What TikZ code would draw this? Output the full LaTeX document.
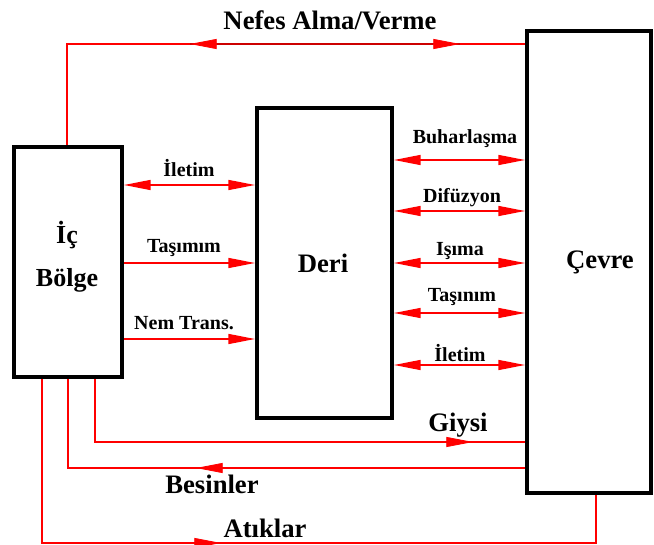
\documentclass[tikz,border=0pt]{standalone}
\usepackage{fontspec}
\setmainfont{Liberation Serif}
\usetikzlibrary{arrows.meta}
\begin{document}
\begin{tikzpicture}[x=0.75pt,y=-0.75pt,
  box/.style={draw=black,line width=3pt,fill=white,inner sep=0pt},
  flow/.style={draw=red,line width=1pt},
  head/.style={draw=red,fill=red,line width=0.6pt,-{Triangle[length=20pt,width=7.5pt]}},
  dbl/.style={draw=red,line width=1.1pt,{Triangle[length=20pt,width=7.5pt]}-{Triangle[length=20pt,width=7.5pt]}},
  uni/.style={draw=red,line width=1.1pt,-{Triangle[length=20pt,width=7.5pt]}},
  lab/.style={font=\bfseries\fontsize{15}{17}\selectfont,inner sep=0pt},
  big/.style={font=\bfseries\fontsize{19.5}{22}\selectfont,inner sep=0pt},
  ttl/.style={font=\bfseries\fontsize{20}{22}\selectfont,inner sep=0pt}]
\useasboundingbox (0,0) rectangle (654,545);

% blocks
\node[box,minimum width=81pt,minimum height=172.5pt] (ic) at (68,262) {};
\node[box,minimum width=101.25pt,minimum height=232.5pt] (deri) at (324.5,263) {};
\node[box,minimum width=93pt,minimum height=346.5pt] (cevre) at (589,262) {};

\node[big] (icT) at (67,235) {İç};
\node[big] (bolgeT) at (67,280) {Bölge};
\node[ttl] (deriT) at (323,263) {Deri};
\node[ttl] (cevreT) at (600,262) {Çevre};

% inner zone to skin
\draw[dbl] (ic.east |- 0,185) -- (deri.west |- 0,185);
\draw[uni] (ic.east |- 0,263) -- (deri.west |- 0,263);
\draw[uni] (ic.east |- 0,339) -- (deri.west |- 0,339);
\node[lab] (l1) at (189,168) {İletim};
\node[lab] (l2) at (184,248) {Taşımım};
\node[lab] (l3) at (184,323) {Nem Trans.};

% skin to surroundings
\foreach \y/\t/\ly/\lx in {160/Buharlaşma/139/465, 211/Difüzyon/198/462,
    263/Işıma/251/460, 313/Taşınım/297/462, 365/İletim/353/460}{
  \draw[dbl] (deri.east |- 0,\y) -- (cevre.west |- 0,\y);
  \node[lab] at (\lx,\ly) {\t};
}

% breathing
\coordinate (nL) at (67,44);
\draw[flow] (ic.north -| nL) -- (nL) -- (cevre.west |- nL);
\coordinate (nA1) at (217,44);
\coordinate (nA2) at (190,44);
\coordinate (nB1) at (433,44);
\coordinate (nB2) at (460,44);
\draw[red!80!black,line width=1pt] (nA2) -- (nB2);
\draw[head] (nA1) -- (nA2);
\draw[head] (nB1) -- (nB2);
\node[ttl] (nefes) at (330,20) {Nefes Alma/Verme};

% clothing
\coordinate (gC) at (95,442);
\draw[flow] (ic.south -| gC) -- (gC) -- (cevre.west |- gC);
\coordinate (gA1) at (448,442);
\coordinate (gA2) at (473,442);
\draw[head] (gA1) -- (gA2);
\node[ttl] (giysi) at (458,425) {Giysi};

% food
\coordinate (bC) at (68,468);
\draw[flow] (cevre.west |- bC) -- (bC) -- (ic.south -| bC);
\coordinate (bA1) at (221,468);
\coordinate (bA2) at (196,468);
\draw[head] (bA1) -- (bA2);
\node[ttl] (besin) at (212,484) {Besinler};

% waste
\coordinate (aC) at (42,543);
\coordinate (aD) at (596,543);
\draw[flow] (ic.south -| aC) -- (aC) -- (aD) -- (cevre.south -| aD);
\coordinate (aA1) at (196,543);
\coordinate (aA2) at (221,543);
\draw[head] (aA1) -- (aA2);
\node[ttl] (atik) at (265,528) {Atıklar};
\end{tikzpicture}
\end{document}
